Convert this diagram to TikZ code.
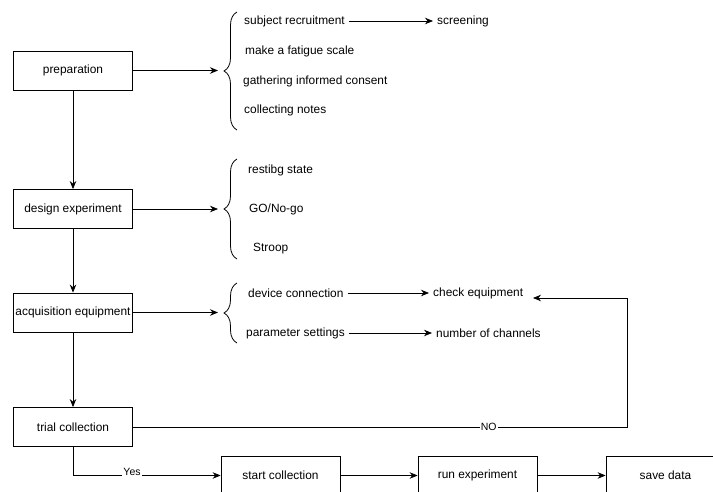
\documentclass[tikz,border=0pt]{standalone}
\usepackage{fontspec}
\setmainfont{Liberation Sans}
\usepackage{tikz}
\usetikzlibrary{arrows.meta, decorations.pathreplacing, positioning, calc}

\tikzset{
    stagebox/.style={draw, line width=0.8pt, minimum width=119pt, minimum height=39pt, inner sep=0pt},
    item/.style={anchor=west, inner sep=4pt},
    flow/.style={line width=0.8pt, -{Stealth[length=8pt, width=6.5pt]}},
    curly/.style={line width=0.8pt, decorate, decoration={brace, amplitude=13pt}},
    tag/.style={fill=white, inner sep=1pt, font=\fontsize{10.5}{12}\selectfont}
}

\begin{document}
\begin{tikzpicture}[x=1pt, y=-1pt, font=\fontsize{11.9}{14}\selectfont]
        \useasboundingbox (0,0) rectangle (713,492);

        % main stages
        \node[stagebox] (prep) at (73,70.5) {preparation};
        \node[stagebox] (design) at (73,209) {design experiment};
        \node[stagebox] (acq) at (73,312.5) {acquisition equipment};
        \node[stagebox] (trial) at (73,427) {trial collection};

        \draw[flow] (prep) -- (design);
        \draw[flow] (design) -- (acq);
        \draw[flow] (acq) -- (trial);

        % preparation items
        \draw[curly] (237,130) -- (237,12);
        \coordinate (prepbrace) at (218,70.5);
        \draw[flow] (prep.east) -- (prepbrace);
        \node[item] (subj) at (240,21) {subject recruitment};
        \node[item] (fatigue) at (241,51) {make a fatigue scale};
        \node[item] (consent) at (239,81) {gathering informed consent};
        \node[item] (notes) at (240,110) {collecting notes};
        \node[item] (screen) at (433,21) {screening};
        \draw[flow] (subj) -- (screen);

        % design items
        \draw[curly] (237,259) -- (237,159);
        \coordinate (designbrace) at (218,209);
        \draw[flow] (design.east) -- (designbrace);
        \node[item] (rest) at (244,170) {restibg state};
        \node[item] (gonogo) at (245,209) {GO/No-go};
        \node[item] (stroop) at (249,249) {Stroop};

        % equipment items
        \draw[curly] (237,343) -- (237,283);
        \coordinate (acqbrace) at (218,312.5);
        \draw[flow] (acq.east) -- (acqbrace);
        \node[item] (device) at (244,293) {device connection};
        \node[item] (param) at (242,333) {parameter settings};
        \node[item] (check) at (429,293) {check equipment};
        \node[item] (channels) at (432,333) {number of channels};
        \draw[flow] (device) -- (check);
        \draw[flow] (param) -- (channels);

        % collection
        \node[stagebox] (start) at (280.5,475.5) {start collection};
        \node[stagebox] (run) at (477.5,475.5) {run experiment};
        \node[stagebox] (save) at (665.5,475.5) {save data};
        \coordinate (loopx) at (627,0);
        \coordinate (checkin) at (533,298);

        \draw[flow] (trial.east) -- node[tag, pos=0.72] {NO} (trial.east -| loopx) |- (checkin);
        \draw[flow] (trial.south) |- node[tag, pos=0.7, yshift=4pt] {Yes} (start.west);
        \draw[flow] (start) -- (run);
        \draw[flow] (run) -- (save);
    \end{tikzpicture}
\end{document}
